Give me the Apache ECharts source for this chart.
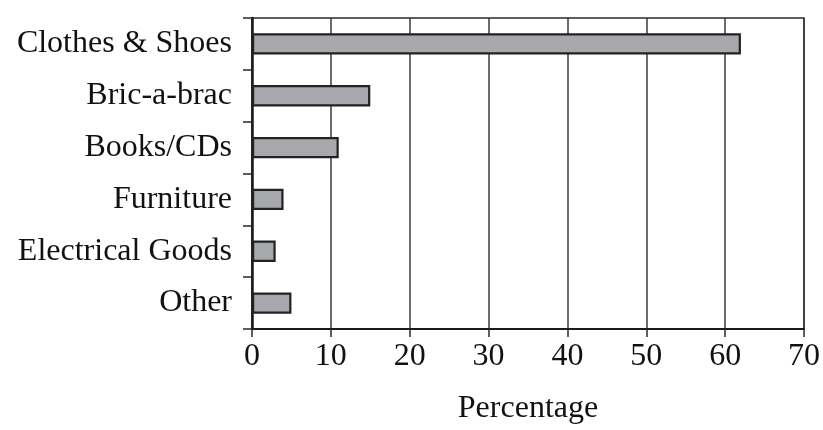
<!DOCTYPE html>
<html>
<head>
<meta charset="utf-8">
<script src="https://cdn.jsdelivr.net/npm/echarts@6/dist/echarts.min.js"></script>
<style>
html,body{margin:0;padding:0;background:#fff;}
#chart{width:823px;height:430px;}
</style>
</head>
<body>
<div id="chart"></div>
<script>
var categories = ["Clothes & Shoes", "Bric-a-brac", "Books/CDs", "Furniture", "Electrical Goods", "Other"];
var percentages = [62, 15, 11, 4, 3, 5];
var xTicks = [0, 10, 20, 30, 40, 50, 60, 70];

var chart = echarts.init(document.getElementById('chart'), null, {renderer: 'canvas'});
var font = '"Liberation Serif", "DejaVu Serif", "Times New Roman", serif';
chart.setOption({
  animation: false,
  backgroundColor: '#fff',
  textStyle: {fontFamily: font},
  grid: {
    left: 252, right: 17, top: 18, bottom: 99,
    show: true, borderColor: '#2a2a2a', borderWidth: 1.5, backgroundColor: 'transparent'
  },
  xAxis: {
    type: 'value',
    min: xTicks[0],
    max: xTicks[xTicks.length - 1],
    interval: 10,
    name: 'Percentage',
    nameLocation: 'middle',
    nameGap: 64,
    nameTextStyle: {fontFamily: font, fontSize: 32, color: '#111'},
    axisLine: {show: true, lineStyle: {color: '#1a1a1a', width: 2}},
    axisTick: {show: true, length: 8, lineStyle: {color: '#2a2a2a', width: 1.5}},
    axisLabel: {fontFamily: font, fontSize: 32, color: '#111', margin: 12},
    splitLine: {show: true, lineStyle: {color: '#3a3a3a', width: 1.5}}
  },
  yAxis: {
    type: 'category',
    data: categories,
    inverse: true,
    axisLine: {show: true, lineStyle: {color: '#1a1a1a', width: 2.5}},
    axisTick: {show: true, length: 9, lineStyle: {color: '#2a2a2a', width: 1.5}},
    axisLabel: {fontFamily: font, fontSize: 32, color: '#111', margin: 20},
    splitLine: {show: false}
  },
  series: [{
    type: 'bar',
    data: percentages,
    barWidth: '41%',
    itemStyle: {color: '#a7a8ac', borderColor: '#222', borderWidth: 2.2}
  }]
});
</script>
</body>
</html>
